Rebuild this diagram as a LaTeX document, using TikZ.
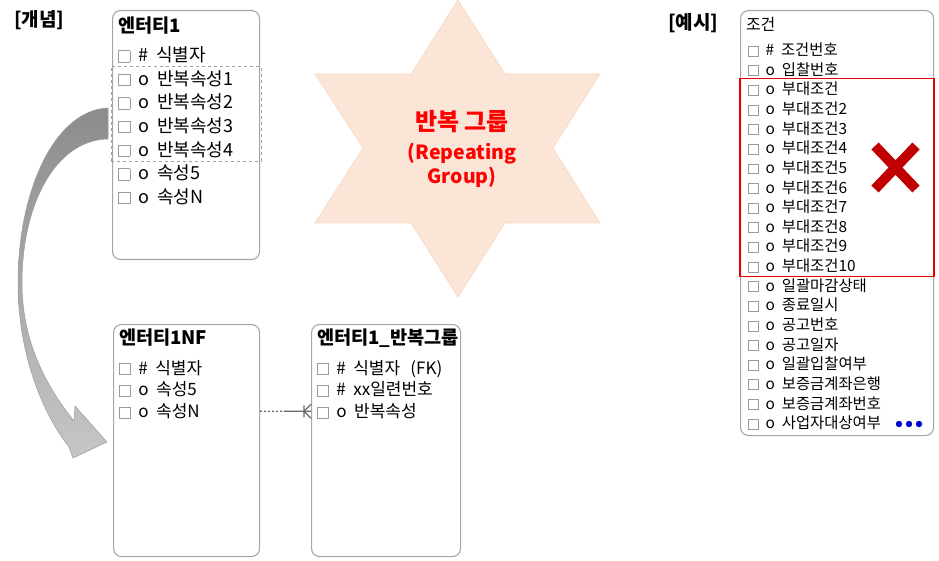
\documentclass[tikz,border=0pt]{standalone}
\usepackage{fontspec}
\setmainfont{Noto Sans CJK KR}
\usepackage{tikz}
\usetikzlibrary{positioning,calc,fit}

\definecolor{boxgray}{HTML}{A6A6A6}
\definecolor{sqgray}{HTML}{9A9A9A}
\definecolor{dashgray}{HTML}{A0A0A0}
\definecolor{linkgray}{HTML}{6A6A6A}
\definecolor{starfill}{HTML}{FBE5D6}
\definecolor{starline}{HTML}{F8D8C4}
\definecolor{grpred}{HTML}{FF0000}
\definecolor{framered}{HTML}{E60000}
\definecolor{xred}{HTML}{C00000}
\definecolor{dotblue}{HTML}{0000CC}
\definecolor{arrtop}{HTML}{8C8C8C}
\definecolor{arrbot}{HTML}{C6C6C6}
\definecolor{arrline}{HTML}{9C9C9C}

% checkbox and one attribute row
\newcommand{\chk}{{\setlength{\fboxsep}{0pt}\setlength{\fboxrule}{0.7pt}\fcolorbox{sqgray}{white}{\rule{0pt}{0.6em}\rule{0.6em}{0pt}}}}
\newcommand{\ent}[2]{\chk\hspace{0.45em}#1\hspace{0.45em}#2}

\begin{document}
\begin{tikzpicture}[x=1pt, y=-1pt,
  entity/.style = {draw=boxgray, line width=1.1pt, rounded corners=8pt, anchor=north west, inner sep=0},
  etitle/.style = {font=\fontsize{18.6}{20}\selectfont\bfseries, text width=136pt, text height=14.4pt, text depth=3.6pt, inner sep=0, outer sep=0, align=left, anchor=north west},
  attr/.style = {font=\fontsize{18}{20}\selectfont, text width=136pt, text height=18.5pt, text depth=5.1pt, inner sep=0, outer sep=0, align=left},
  attrs/.style = {font=\fontsize{17}{19}\selectfont, text width=136pt, text height=17.15pt, text depth=4.55pt, inner sep=0, outer sep=0, align=left},
  ctitle/.style = {font=\fontsize{16}{18}\selectfont, text width=180pt, text height=13pt, text depth=4pt, inner sep=0, outer sep=0, align=left, anchor=north west},
  cond/.style = {font=\fontsize{15.4}{18}\selectfont, text width=178pt, text height=15.5pt, text depth=4.13pt, inner sep=0, outer sep=0, align=left},
  tag/.style = {font=\fontsize{19}{22}\selectfont\bfseries, inner sep=0, anchor=north west},
  dashbox/.style = {draw=dashgray, dashed, line width=0.9pt, inner xsep=7pt, inner ysep=0pt},
  redbox/.style = {draw=framered, line width=1.4pt, inner xsep=8pt, inner ysep=1pt},
  link/.style = {draw=linkgray, line width=1.2pt}]

\useasboundingbox (0,0) rectangle (939,561);

% curved arrow
\shade[top color=arrtop, bottom color=arrbot, draw=arrline, line width=0.5pt]
  (108,108) .. controls (55,110) and (18,190) .. (18,283)
  .. controls (18,350) and (40,410) .. (69,447)
  -- (73,458) -- (107,442) -- (75,406) -- (74,421)
  .. controls (45,385) and (22,340) .. (22,283)
  .. controls (22,205) and (55,140) .. (108,139) -- cycle;

% star
\filldraw[fill=starfill, draw=starline, line width=0.6pt]
  (458,0) -- (505,74) -- (600,74) -- (553,148) -- (600,223) -- (505,223)
  -- (458,297) -- (411,223) -- (315,223) -- (363,148) -- (315,74) -- (411,74) -- cycle;
\node[text=grpred, align=center, font=\fontsize{19.5}{24.5}\selectfont\bfseries] (rgtxt) at (462,149)
  {{\fontsize{24}{28}\selectfont 반복 그룹}\\[4pt](Repeating\\Group)};

% labels
\node[tag] (concept) at (14,10) {[개념]};
\node[tag] (sample) at (668,13) {[예시]};

% entity 1
\node[entity, minimum width=147pt, minimum height=249pt] (e1) at (112,10) {};
\node[etitle] (e1t) at ([shift={(6,8)}]e1.north west) {엔터티1};
\node[attr] (e1a) [below=7.2pt of e1t] {\ent{\#}{식별자}};
\node[attr] (e1b) [below=0pt of e1a] {\ent{o}{반복속성1}};
\node[attr] (e1c) [below=0pt of e1b] {\ent{o}{반복속성2}};
\node[attr] (e1d) [below=0pt of e1c] {\ent{o}{반복속성3}};
\node[attr] (e1e) [below=0pt of e1d] {\ent{o}{반복속성4}};
\node[attr] (e1f) [below=0pt of e1e] {\ent{o}{속성5}};
\node[attr] (e1g) [below=0pt of e1f] {\ent{o}{속성N}};
\node[dashbox, fit=(e1b)(e1e)] (rep) {};

% entity 1NF
\node[entity, minimum width=146pt, minimum height=232pt] (nf) at (113,324) {};
\node[etitle] (nft) at ([shift={(6,6)}]nf.north west) {엔터티1NF};
\node[attrs] (nf1) [below=9pt of nft] {\ent{\#}{식별자}};
\node[attrs] (nf2) [below=0pt of nf1] {\ent{o}{속성5}};
\node[attrs] (nf3) [below=0pt of nf2] {\ent{o}{속성N}};

% entity 1 repeating group
\node[entity, minimum width=149pt, minimum height=232pt] (rg) at (311,324) {};
\node[etitle] (rgt) at ([shift={(6,6)}]rg.north west) {엔터티1\_반복그룹};
\node[attrs] (rg1) [below=9pt of rgt] {\ent{\#}{식별자\hspace{0.6em}(FK)}};
\node[attrs] (rg2) [below=0pt of rg1] {\ent{\#}{xx일련번호}};
\node[attrs] (rg3) [below=0pt of rg2] {\ent{o}{반복속성}};

% relation
\coordinate (cf) at (rg3 -| rg.west);
\coordinate (lkm) at ($(nf3 -| nf.east)!0.46!(cf)$);
\draw[link, dash pattern=on 2pt off 2pt] (nf3 -| nf.east) -- (lkm);
\draw[link] (lkm) -- (cf);
\draw[link] ($(cf)+(-7,0)$) -- ++(7,-7) ($(cf)+(-7,0)$) -- ++(7,7) ($(cf)+(-7,-6)$) -- ++(0,12);

% example entity
\node[entity, minimum width=193pt, minimum height=425pt] (cd) at (740,10) {};
\node[ctitle] (cdt) at ([shift={(6,8)}]cd.north west) {조건};
\node[cond] (c1) [below=5.2pt of cdt.south west, anchor=north west, xshift=2pt] {\ent{\#}{조건번호}};
\node[cond] (c2) [below=0pt of c1] {\ent{o}{입찰번호}};
\node[cond] (c3) [below=0pt of c2] {\ent{o}{부대조건}};
\node[cond] (c4) [below=0pt of c3] {\ent{o}{부대조건2}};
\node[cond] (c5) [below=0pt of c4] {\ent{o}{부대조건3}};
\node[cond] (c6) [below=0pt of c5] {\ent{o}{부대조건4}};
\node[cond] (c7) [below=0pt of c6] {\ent{o}{부대조건5}};
\node[cond] (c8) [below=0pt of c7] {\ent{o}{부대조건6}};
\node[cond] (c9) [below=0pt of c8] {\ent{o}{부대조건7}};
\node[cond] (c10) [below=0pt of c9] {\ent{o}{부대조건8}};
\node[cond] (c11) [below=0pt of c10] {\ent{o}{부대조건9}};
\node[cond] (c12) [below=0pt of c11] {\ent{o}{부대조건10}};
\node[cond] (c13) [below=0pt of c12] {\ent{o}{일괄마감상태}};
\node[cond] (c14) [below=0pt of c13] {\ent{o}{종료일시}};
\node[cond] (c15) [below=0pt of c14] {\ent{o}{공고번호}};
\node[cond] (c16) [below=0pt of c15] {\ent{o}{공고일자}};
\node[cond] (c17) [below=0pt of c16] {\ent{o}{일괄입찰여부}};
\node[cond] (c18) [below=0pt of c17] {\ent{o}{보증금계좌은행}};
\node[cond] (c19) [below=0pt of c18] {\ent{o}{보증금계좌번호}};
\node[cond] (c20) [below=0pt of c19] {\ent{o}{사업자대상여부}};
\node[redbox, fit=(c3)(c12)] (rep2) {};

% cross and dots
\draw[xred, line width=10pt] (875,146) -- (916,189) (916,146) -- (875,189);
\fill[dotblue] (899,424) circle (3.2pt) (909,424) circle (3.2pt) (919,424) circle (3.2pt);
\end{tikzpicture}
\end{document}
